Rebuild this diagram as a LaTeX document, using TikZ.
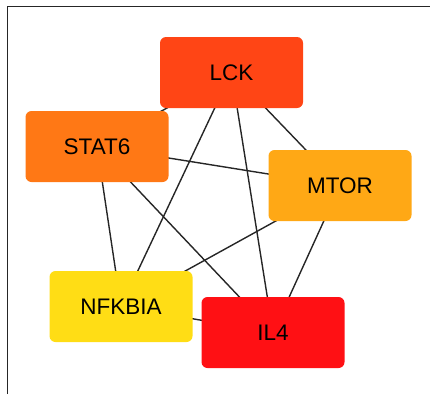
\documentclass[tikz,border=0pt]{standalone}
\usepackage{fontspec}
\setmainfont{Liberation Sans}
\definecolor{cLCK}{HTML}{FF4515}
\definecolor{cSTAT}{HTML}{FF7815}
\definecolor{cMTOR}{HTML}{FFA815}
\definecolor{cNFK}{HTML}{FFDD15}
\definecolor{cIL}{HTML}{FF1014}
\begin{document}
\begin{tikzpicture}[x=1pt,y=-1pt,
  gene/.style={rectangle, rounded corners=6pt, minimum width=143pt, minimum height=71pt, inner sep=0pt, font=\fontsize{22.5}{26}\selectfont, text=black},
  edge/.style={draw=black!85, line width=1.4pt}]
\useasboundingbox (0,0) rectangle (430,394);
\draw[line width=1pt, black!85] (7,394) -- (7,6.5) -- (430,6.5);
\coordinate (pLCK) at (231.5,72.5);
\coordinate (pSTAT) at (97,146.5);
\coordinate (pMTOR) at (340,185.5);
\coordinate (pNFK) at (121,306.5);
\coordinate (pIL) at (273,332.5);
\draw[edge] (pLCK) -- (pSTAT);
\draw[edge] (pLCK) -- (pNFK);
\draw[edge] (pLCK) -- (pIL);
\draw[edge] (pLCK) -- (pMTOR);
\draw[edge] (pSTAT) -- (pMTOR);
\draw[edge] (pSTAT) -- (pIL);
\draw[edge] (pSTAT) -- (pNFK);
\draw[edge] (pMTOR) -- (pNFK);
\draw[edge] (pMTOR) -- (pIL);
\draw[edge] (pNFK) -- (pIL);
\node[gene, fill=cLCK] (LCK) at (pLCK) {LCK};
\node[gene, fill=cSTAT] (STAT6) at (pSTAT) {STAT6};
\node[gene, fill=cMTOR] (MTOR) at (pMTOR) {MTOR};
\node[gene, fill=cNFK] (NFKBIA) at (pNFK) {NFKBIA};
\node[gene, fill=cIL] (IL4) at (pIL) {IL4};
\end{tikzpicture}
\end{document}
